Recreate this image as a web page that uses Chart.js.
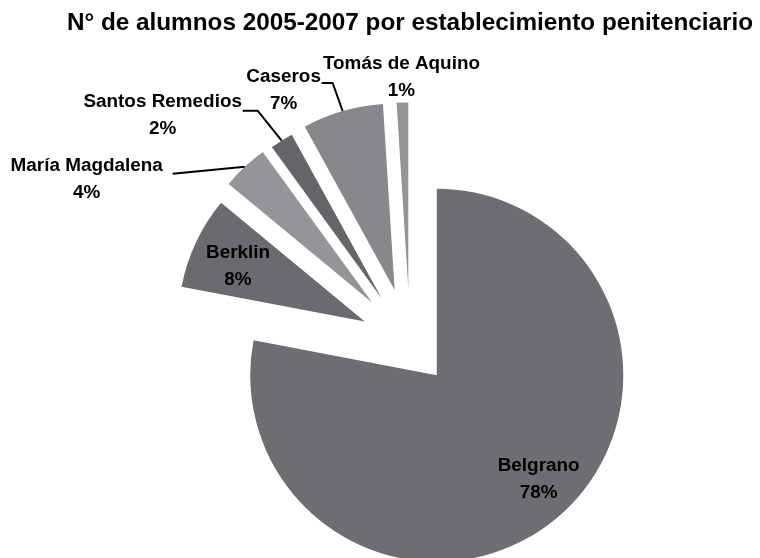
<!DOCTYPE html>
<html>
<head>
<meta charset="utf-8">
<title>N° de alumnos 2005-2007 por establecimiento penitenciario</title>
<script src="https://cdn.jsdelivr.net/npm/chart.js@4/dist/chart.umd.min.js"></script>
<style>
    html, body { margin: 0; padding: 0; background: #fff; }
    #wrap { width: 760px; height: 558px; overflow: hidden; }
</style>
</head>
<body>
<div id="wrap"><canvas id="pieChart" width="760" height="558"></canvas></div>
<script>
// Data
const categories = ['Belgrano', 'Berklin', 'María Magdalena', 'Santos Remedios', 'Caseros', 'Tomás de Aquino'];
const percentValues = [78, 8, 4, 2, 7, 1];
const sliceColors = ['#6d6e71', '#6a6b6f', '#939598', '#636569', '#86888b', '#939598'];

// How far each slice is pulled out of the pie (px)
const explodeBy = [42, 50, 55, 53, 55, 54];

// Label block centre relative to the slice's outer mid point, plus leader line points
const labelLayout = [
    { dx: -17, dy: -40, leader: null },
    { dx: 42, dy: 24, leader: null },
    { dx: -158, dy: 12, leader: [[-72, 7]] },
    { dx: -119, dy: -25, leader: [[-24, -30], [-39, -30]] },
    { dx: -59, dy: -21, leader: [[-10, -28], [-21, -28]] },
    { dx: -1, dy: -25, leader: null }
];

const FONT = '"Liberation Sans", Arial, Helvetica, sans-serif';

// Move each arc outward along its mid angle
const explodePlugin = {
    id: 'explode',
    afterDatasetUpdate(chart, args) {
        args.meta.data.forEach((arc, i) => {
            const mid = (arc.startAngle + arc.endAngle) / 2;
            const d = explodeBy[i] || 0;
            arc.x += Math.cos(mid) * d;
            arc.y += Math.sin(mid) * d;
        });
    }
};

// Category name + percentage, with leader lines for the outside labels
const sliceLabelPlugin = {
    id: 'sliceLabels',
    afterDatasetsDraw(chart) {
        const ctx = chart.ctx;
        const meta = chart.getDatasetMeta(0);
        ctx.save();
        meta.data.forEach((arc, i) => {
            const p = arc.getProps(['x', 'y', 'startAngle', 'endAngle', 'outerRadius'], true);
            const mid = (p.startAngle + p.endAngle) / 2;
            const ox = p.x + Math.cos(mid) * p.outerRadius;
            const oy = p.y + Math.sin(mid) * p.outerRadius;
            const lay = labelLayout[i];

            if (lay.leader) {
                ctx.beginPath();
                ctx.moveTo(ox, oy);
                lay.leader.forEach(pt => ctx.lineTo(ox + pt[0], oy + pt[1]));
                ctx.strokeStyle = '#000';
                ctx.lineWidth = 2;
                ctx.stroke();
            }

            const cx = ox + lay.dx;
            const cy = oy + lay.dy;
            ctx.fillStyle = '#000';
            ctx.font = 'bold 18.9px ' + FONT;
            ctx.textAlign = 'center';
            ctx.textBaseline = 'middle';
            ctx.fillText(categories[i], cx, cy - 13.5);
            ctx.fillText(percentValues[i] + '%', cx, cy + 13.5);
        });
        ctx.restore();
    }
};

function initializePieChart() {
    const ctx = document.getElementById('pieChart');
    if (ctx) {
        new Chart(ctx, {
            type: 'pie',
            data: {
                labels: categories,
                datasets: [{
                    data: percentValues,
                    backgroundColor: sliceColors,
                    borderWidth: 0,
                    radius: 186.5
                }]
            },
            options: {
                responsive: false,
                animation: false,
                layout: {
                    padding: { left: 60, right: 0, top: 0, bottom: 0 }
                },
                plugins: {
                    legend: { display: false },
                    tooltip: { enabled: false },
                    title: {
                        display: true,
                        text: 'N° de alumnos 2005-2007 por establecimiento penitenciario',
                        color: '#000',
                        font: { family: FONT, size: 24.3, weight: 'bold' },
                        padding: { top: 9, bottom: 89.6 }
                    }
                }
            },
            plugins: [explodePlugin, sliceLabelPlugin]
        });
    }
}

document.addEventListener('DOMContentLoaded', initializePieChart);
</script>
</body>
</html>
